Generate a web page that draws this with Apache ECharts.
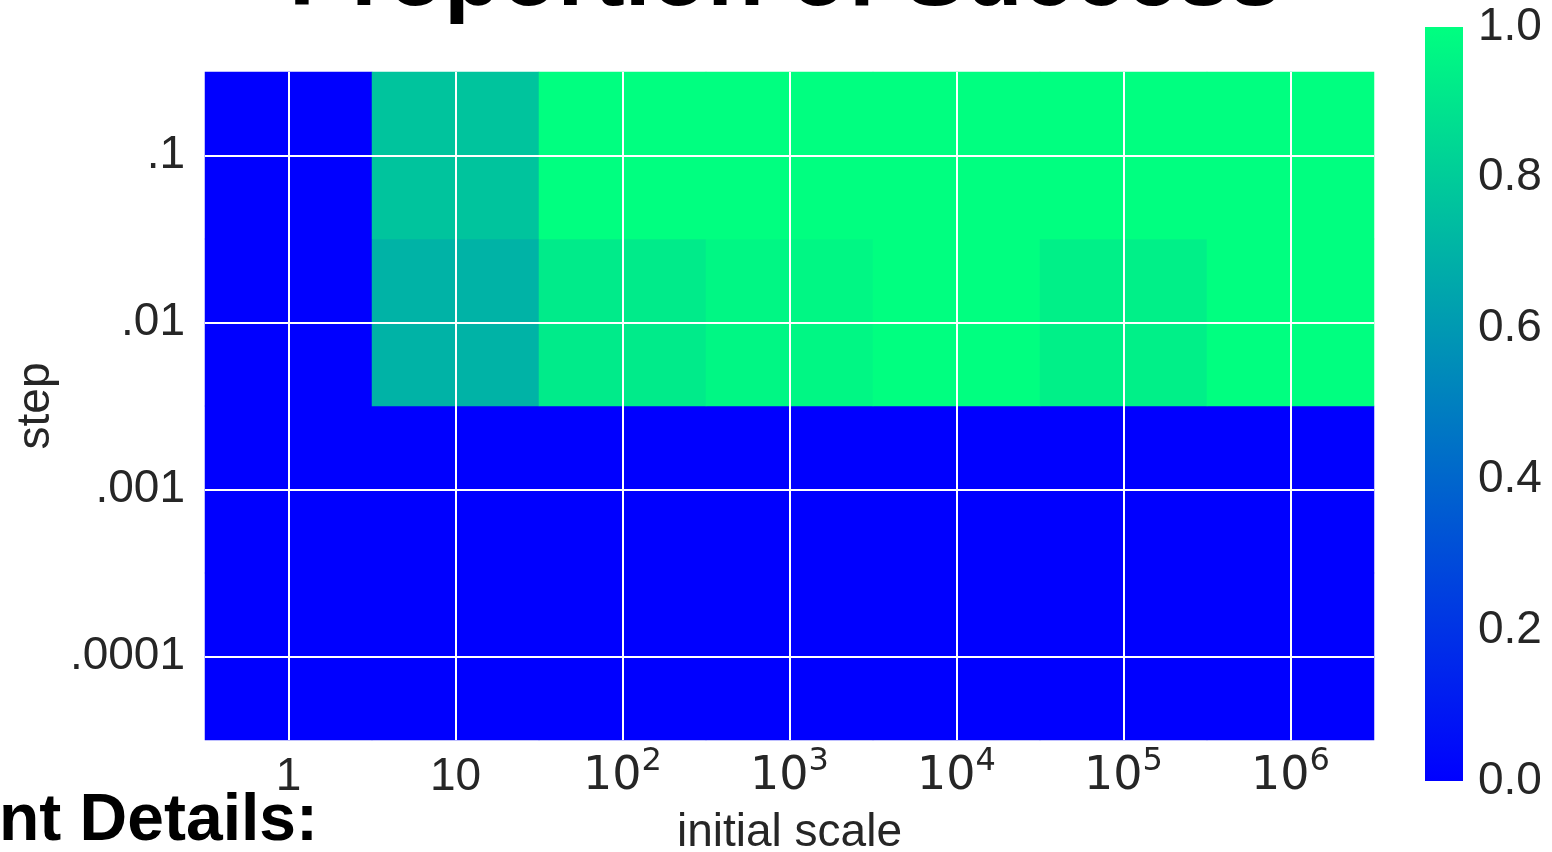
<!DOCTYPE html>
<html>
<head>
<meta charset="utf-8">
<script src="https://cdn.jsdelivr.net/npm/echarts@6/dist/echarts.min.js"></script>
<style>
  html, body { margin: 0; padding: 0; background: #ffffff; }
  #chart { width: 1552px; height: 852px; }
</style>
</head>
<body>
<div id="chart"></div>
<script>
// Columns: initial scale; rows: step size (bottom to top)
const scaleLabels = ['1', '10', '10^2', '10^3', '10^4', '10^5', '10^6'];
const stepLabels = ['.0001', '.001', '.01', '.1'];

// Proportion of successful runs for each step size, one value per initial scale
const successStep0001 = [0, 0, 0, 0, 0, 0, 0];
const successStep001 = [0, 0, 0, 0, 0, 0, 0];
const successStep01 = [0, 0.70, 0.92, 0.97, 1.0, 0.94, 1.0];
const successStep1 = [0, 0.77, 1.0, 1.0, 1.0, 1.0, 1.0];

// Colour bar ticks and the "winter" colour map end points
const colorbarTicks = [0, 0.2, 0.4, 0.6, 0.8, 1.0];
const winterColors = ['#0000ff', '#00ff80'];

const rows = [successStep0001, successStep001, successStep01, successStep1];
const cells = [];
rows.forEach((row, yi) => row.forEach((v, xi) => cells.push([xi, yi, v])));

const TEXT = '#262626';
const SANS = '"Liberation Sans", Arial, Helvetica, sans-serif';
const MATH = '"DejaVu Sans", sans-serif';

// "10^n" is shown with a raised exponent
function scaleLabel(s) {
  const parts = s.split('^');
  if (parts.length === 1) return '{p|' + parts[0] + '}';
  return '{b|' + parts[0] + '}{s|' + parts[1] + '}';
}

const chart = echarts.init(document.getElementById('chart'), null, { renderer: 'canvas' });

chart.setOption({
  animation: false,
  backgroundColor: '#ffffff',
  graphic: [
    {
      type: 'text', x: 785, y: -21, silent: true,
      style: {
        text: 'Proportion of Success', fill: '#000000',
        fontFamily: SANS, fontWeight: 'bold', fontSize: 93,
        textAlign: 'center', textVerticalAlign: 'middle'
      }
    },
    {
      type: 'text', x: 318, y: 822, silent: true,
      style: {
        text: 'Experiment Details:', fill: '#000000',
        fontFamily: SANS, fontWeight: 'bold', fontSize: 66,
        textAlign: 'right', textVerticalAlign: 'middle'
      }
    }
  ],
  grid: [
    { left: 205, top: 72, width: 1169, height: 668, containLabel: false, outerBoundsMode: 'none' },
    { left: 1425, top: 27, width: 38, height: 754, containLabel: false, outerBoundsMode: 'none' }
  ],
  visualMap: {
    show: false,
    seriesIndex: 0,
    min: 0,
    max: 1,
    inRange: { color: winterColors }
  },
  xAxis: [
    {
      type: 'category',
      gridIndex: 0,
      data: scaleLabels,
      axisLine: { show: false },
      axisTick: { show: false },
      splitLine: { show: false },
      axisLabel: {
        margin: 14,
        formatter: scaleLabel,
        rich: {
          p: { fontFamily: SANS, fontSize: 46, lineHeight: 46, color: TEXT },
          b: { fontFamily: MATH, fontSize: 46, lineHeight: 46, color: TEXT },
          s: { fontFamily: MATH, fontSize: 32, lineHeight: 14, color: TEXT,
               verticalAlign: 'bottom', padding: [0, 0, 22, 0] }
        }
      },
      name: 'initial scale',
      nameLocation: 'middle',
      nameGap: 70,
      nameTextStyle: { fontFamily: SANS, fontSize: 46, lineHeight: 46, color: TEXT }
    },
    {
      type: 'category',
      gridIndex: 1,
      data: [''],
      show: false
    }
  ],
  yAxis: [
    {
      type: 'category',
      gridIndex: 0,
      data: stepLabels,
      axisLine: { show: false },
      axisTick: { show: false },
      splitLine: { show: false },
      axisLabel: {
        margin: 20,
        fontFamily: SANS, fontSize: 46, lineHeight: 46, color: TEXT
      },
      name: 'step',
      nameLocation: 'middle',
      nameRotate: 90,
      nameGap: 143,
      nameTextStyle: { fontFamily: SANS, fontSize: 46, lineHeight: 46, color: TEXT }
    },
    {
      type: 'value',
      gridIndex: 1,
      position: 'right',
      min: colorbarTicks[0],
      max: colorbarTicks[colorbarTicks.length - 1],
      interval: colorbarTicks[1] - colorbarTicks[0],
      axisLine: { show: false },
      axisTick: { show: false },
      splitLine: { show: false },
      axisLabel: {
        margin: 15,
        fontFamily: SANS, fontSize: 46, lineHeight: 46, color: TEXT,
        padding: [8, 0, 0, 0],
        formatter: v => v.toFixed(1)
      }
    }
  ],
  series: [
    {
      type: 'heatmap',
      xAxisIndex: 0,
      yAxisIndex: 0,
      data: cells,
      itemStyle: { borderWidth: 0 },
      emphasis: { disabled: true },
      markLine: {
        silent: true,
        symbol: 'none',
        label: { show: false },
        lineStyle: { color: '#ffffff', width: 2, type: 'solid', opacity: 1 },
        emphasis: { disabled: true },
        data: scaleLabels.map(c => ({ xAxis: c }))
          .concat(stepLabels.map(c => ({ yAxis: c })))
      }
    },
    {
      // colour bar
      type: 'bar',
      xAxisIndex: 1,
      yAxisIndex: 1,
      data: [colorbarTicks[colorbarTicks.length - 1]],
      barWidth: '100%',
      silent: true,
      itemStyle: {
        color: {
          type: 'linear', x: 0, y: 1, x2: 0, y2: 0,
          colorStops: [
            { offset: 0, color: winterColors[0] },
            { offset: 1, color: winterColors[1] }
          ]
        }
      }
    }
  ]
});
</script>
</body>
</html>
